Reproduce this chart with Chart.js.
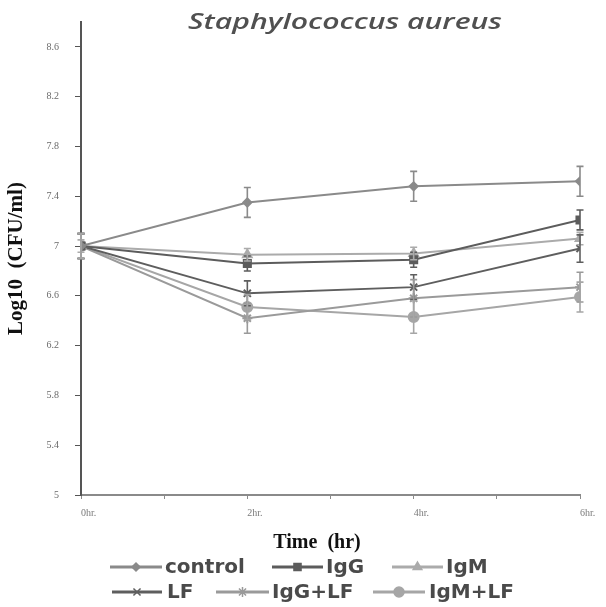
<!DOCTYPE html>
<html>
<head>
<meta charset="utf-8">
<script src="https://cdn.jsdelivr.net/npm/chart.js@4.4.1/dist/chart.umd.min.js"></script>
<style>
  html, body { margin: 0; padding: 0; background: #fff; }
  #wrap { width: 606px; height: 607px; }
</style>
</head>
<body>
<div id="wrap"><canvas id="grafico" width="606" height="607"></canvas></div>
<script>
const hours = [0, 2, 4, 6];
const xTickLabels = ['0hr.', '2hr.', '4hr.', '6hr.'];
const seriesNames = ['control', 'IgG', 'IgM', 'LF', 'IgG+LF', 'IgM+LF'];

const control = [7, 7.35, 7.48, 7.52];
const igg     = [7, 6.86, 6.89, 7.21];
const igm     = [7, 6.93, 6.94, 7.06];
const lf      = [7, 6.62, 6.67, 6.98];
const iggLf   = [7, 6.42, 6.58, 6.67];
const igmLf   = [7, 6.51, 6.43, 6.59];

const controlErr = [0.10, 0.12, 0.12, 0.12];
const iggErr     = [0.10, 0.06, 0.06, 0.08];
const igmErr     = [0.05, 0.05, 0.05, 0.05];
const lfErr      = [0.10, 0.10, 0.10, 0.11];
const iggLfErr   = [0.10, 0.12, 0.15, 0.12];
const igmLfErr   = [0.10, 0.10, 0.13, 0.12];

const yTicks = [5, 5.4, 5.8, 6.2, 6.6, 7, 7.4, 7.8, 8.2, 8.6];

const series = [
  { label: seriesNames[0], values: control, err: controlErr, color: '#8a8a8a', marker: 'rectRot', r: 4 },
  { label: seriesNames[1], values: igg,     err: iggErr,     color: '#5c5c5c', marker: 'rect',    r: 5 },
  { label: seriesNames[2], values: igm,     err: igmErr,     color: '#ababab', marker: 'triangle', r: 5 },
  { label: seriesNames[3], values: lf,      err: lfErr,      color: '#5e5e5e', marker: 'crossRot', r: 5 },
  { label: seriesNames[4], values: iggLf,   err: iggLfErr,   color: '#9a9a9a', marker: 'star',    r: 5 },
  { label: seriesNames[5], values: igmLf,   err: igmLfErr,   color: '#a6a6a6', marker: 'circle',  r: 5 }
];

// error bars, title, x title and legend
const extras = {
  id: 'extras',
  afterDatasetsDraw(chart) {
    const { ctx, scales: { x, y } } = chart;
    ctx.save();
    series.forEach(s => {
      ctx.strokeStyle = s.color;
      ctx.lineWidth = 1.6;
      s.values.forEach((v, i) => {
        const px = x.getPixelForValue(hours[i]);
        const top = y.getPixelForValue(v + s.err[i]);
        const bot = y.getPixelForValue(v - s.err[i]);
        ctx.beginPath();
        ctx.moveTo(px, top); ctx.lineTo(px, bot);
        ctx.moveTo(px - 3.5, top); ctx.lineTo(px + 3.5, top);
        ctx.moveTo(px - 3.5, bot); ctx.lineTo(px + 3.5, bot);
        ctx.stroke();
      });
    });
    ctx.restore();
  },
  afterDraw(chart) {
    const { ctx } = chart;
    ctx.save();

    // title, stretched a bit like the original
    ctx.fillStyle = '#505050';
    ctx.font = 'italic 600 22px "Open Sans"';
    ctx.textBaseline = 'middle';
    ctx.textAlign = 'center';
    const t = 'Staphylococcus aureus';
    const tw = ctx.measureText(t).width;
    ctx.save();
    ctx.translate(345, 23);
    ctx.scale(314 / tw, 1);
    ctx.fillText(t, 0, 0);
    ctx.restore();

    // x axis title
    ctx.fillStyle = '#111';
    ctx.font = 'bold 20px "Liberation Serif"';
    ctx.fillText('Time  (hr)', 317, 543);

    // legend
    const rows = [
      [{ i: 0, x1: 110, x2: 162, tx: 165 }, { i: 1, x1: 272, x2: 323, tx: 326 }, { i: 2, x1: 392, x2: 443, tx: 446 }],
      [{ i: 3, x1: 112, x2: 162, tx: 167 }, { i: 4, x1: 216, x2: 269, tx: 272 }, { i: 5, x1: 373, x2: 425, tx: 429 }]
    ];
    const rowY = [567, 592];
    ctx.font = 'bold 20px "DejaVu Sans"';
    ctx.textAlign = 'left';
    rows.forEach((row, r) => {
      row.forEach(it => {
        const s = series[it.i];
        const yy = rowY[r];
        ctx.strokeStyle = s.color;
        ctx.lineWidth = 3;
        ctx.beginPath();
        ctx.moveTo(it.x1, yy); ctx.lineTo(it.x2, yy);
        ctx.stroke();
        ctx.fillStyle = s.color;
        ctx.lineWidth = 1.5;
        Chart.helpers.drawPoint(ctx, {
          pointStyle: s.marker, radius: s.r, borderWidth: 1.5, rotation: 0
        }, (it.x1 + it.x2) / 2, yy);
        ctx.fillStyle = '#4a4a4a';
        ctx.fillText(s.label, it.tx, yy + 1);
      });
    });
    ctx.restore();
  }
};

new Chart(document.getElementById('grafico'), {
  type: 'line',
  data: {
    datasets: series.map(s => ({
      label: s.label,
      data: s.values.map((v, i) => ({ x: hours[i], y: v })),
      borderColor: s.color,
      backgroundColor: s.color,
      borderWidth: 2,
      tension: 0,
      pointStyle: s.marker,
      pointRadius: s.r,
      pointBorderWidth: 2,
      pointBackgroundColor: s.color,
      pointBorderColor: s.color
    }))
  },
  options: {
    responsive: false,
    animation: false,
    layout: { padding: { top: 13, right: 26, bottom: 0, left: 0 } },
    plugins: {
      legend: { display: false },
      tooltip: { enabled: false }
    },
    scales: {
      x: {
        type: 'linear',
        min: 0,
        max: 6,
        afterFit: scale => { scale.height = 112; },
        afterBuildTicks: scale => {
          scale.ticks = [0, 1, 2, 3, 4, 5, 6].map(v => ({ value: v }));
        },
        ticks: {
          autoSkip: false,
          maxRotation: 0,
          align: 'start',
          padding: 8,
          color: '#7a7a7a',
          font: { family: 'Liberation Serif', size: 10 },
          callback: v => (v % 2 === 0 ? xTickLabels[hours.indexOf(v)] : '')
        },
        grid: { drawOnChartArea: false, tickLength: 4, color: '#8a8a8a' },
        border: { color: '#8a8a8a', width: 2 }
      },
      y: {
        min: 5,
        max: 8.8,
        afterFit: scale => { scale.width = 81; },
        afterBuildTicks: scale => {
          scale.ticks = yTicks.map(v => ({ value: v }));
        },
        ticks: {
          padding: 16,
          color: '#6a6a6a',
          font: { family: 'Liberation Serif', size: 10 },
          callback: v => String(+v.toFixed(1))
        },
        grid: { drawOnChartArea: false, tickLength: 6, color: '#555' },
        border: { color: '#555', width: 2 },
        title: {
          display: true,
          text: 'Log10  (CFU/ml)',
          color: '#111',
          font: { family: 'Liberation Serif', size: 21, weight: 'bold' },
          padding: { top: 4, bottom: 0 }
        }
      }
    }
  },
  plugins: [extras]
});
</script>
</body>
</html>
